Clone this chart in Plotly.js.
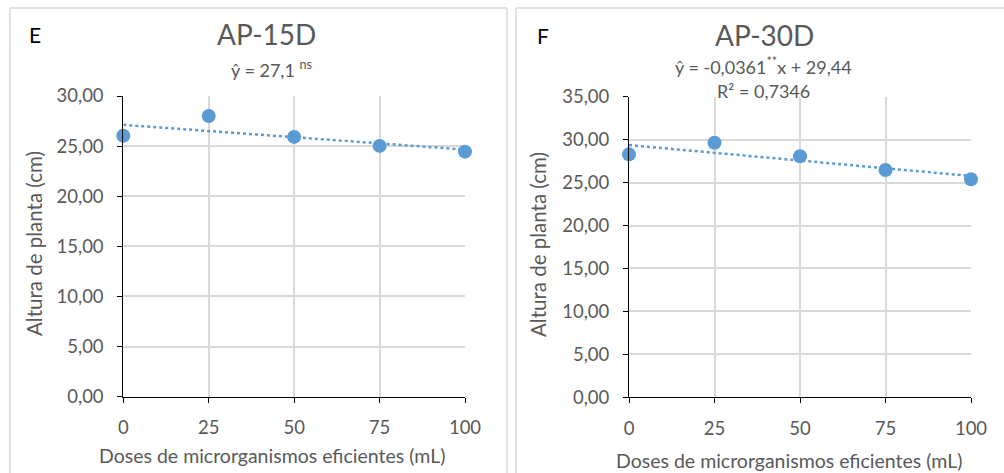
<!DOCTYPE html>
<html>
<head>
<meta charset="utf-8">
<script src="https://cdn.plot.ly/plotly-3.0.1.min.js"></script>
<style>html,body{margin:0;padding:0;background:#fff;}#chart{width:1004px;height:473px;}</style>
</head>
<body>
<div id="chart"></div>
<script>
// ---- data ----
const doses = [0, 25, 50, 75, 100];
const ap15 = [26.04, 28.01, 25.92, 25.02, 24.45];
const ap30 = [28.29, 29.64, 28.06, 26.46, 25.38];
const xTicks = [0, 25, 50, 75, 100];
const yTicks15 = [0, 5, 10, 15, 20, 25, 30];
const yTicks30 = [0, 5, 10, 15, 20, 25, 30, 35];
const panelLetters = ['E', 'F'];
const titles = ['AP-15D', 'AP-30D'];
const eq15 = 'ŷ = 27,1 <sup>ns</sup>';
const eq30 = 'ŷ = -0,0361<sup>**</sup>x + 29,44';
const r2_30 = 'R² = 0,7346';
const yTitle = 'Altura de planta (cm)';
const xTitle = 'Doses de microrganismos eficientes (mL)';

function linfit(x, y) {
  const n = x.length;
  const mx = x.reduce((a, b) => a + b, 0) / n;
  const my = y.reduce((a, b) => a + b, 0) / n;
  let sxy = 0, sxx = 0;
  for (let i = 0; i < n; i++) { sxy += (x[i] - mx) * (y[i] - my); sxx += (x[i] - mx) ** 2; }
  const b = sxy / sxx; const a = my - b * mx;
  return xs => xs.map(v => a + b * v);
}
const endX = [xTicks[0], xTicks[xTicks.length - 1]];

const W = 1004, H = 473;
const px = v => v / W, py = v => 1 - v / H;

const blue = '#5b9bd5';
const FONT = 'Lato, "Open Sans", sans-serif';
const grey = '#595959';

const traces = [
  {x: endX, y: linfit(doses, ap15)(endX), xaxis: 'x', yaxis: 'y', mode: 'lines',
   line: {color: blue, width: 2.5, dash: 'dot'}, hoverinfo: 'skip', cliponaxis: false},
  {x: doses, y: ap15, xaxis: 'x', yaxis: 'y', mode: 'markers',
   marker: {color: blue, size: 14}, cliponaxis: false},
  {x: endX, y: linfit(doses, ap30)(endX), xaxis: 'x2', yaxis: 'y2', mode: 'lines',
   line: {color: blue, width: 2.5, dash: 'dot'}, hoverinfo: 'skip', cliponaxis: false},
  {x: doses, y: ap30, xaxis: 'x2', yaxis: 'y2', mode: 'markers',
   marker: {color: blue, size: 14}, cliponaxis: false}
];

function xAxis(domain, anchor) {
  return {domain: domain, anchor: anchor, range: [0, 100], tickvals: xTicks,
    showgrid: true, gridcolor: '#d9d9d9', gridwidth: 2, zeroline: false,
    showline: true, linecolor: '#000', linewidth: 1,
    ticks: 'outside', ticklen: 5, tickcolor: '#000', ticklabelstandoff: 9,
    tickfont: {family: FONT, size: 18.5, color: grey}, fixedrange: true};
}
function yAxis(domain, anchor, max, vals) {
  return {domain: domain, anchor: anchor, range: [0, max], tickvals: vals, tickformat: '.2f',
    showgrid: true, gridcolor: '#d9d9d9', gridwidth: 2, zeroline: false,
    showline: true, linecolor: '#000', linewidth: 1,
    ticks: 'outside', ticklen: 5, tickcolor: '#000', ticklabelstandoff: 10,
    tickfont: {family: FONT, size: 18.5, color: grey}, fixedrange: true};
}

function ann(x, y, text, size, color, extra) {
  return Object.assign({xref: 'paper', yref: 'paper', x: px(x), y: py(y), text: text,
    showarrow: false, xanchor: 'center', yanchor: 'middle',
    font: {family: FONT, size: size, color: color}}, extra || {});
}

const annotations = [
  ann(35, 34, panelLetters[0], 21, '#000'),
  ann(266, 34, titles[0], 28, grey),
  ann(271, 69, eq15, 18, grey),
  ann(34, 244, yTitle, 20.5, grey, {textangle: -90}),
  ann(272, 455, xTitle, 19.5, grey),
  ann(543, 36, panelLetters[1], 21, '#000'),
  ann(764, 35, titles[1], 28, grey),
  ann(763, 66, eq30, 18, grey),
  ann(763, 91, r2_30, 18, grey),
  ann(538, 245, yTitle, 20.5, grey, {textangle: -90}),
  ann(789, 460, xTitle, 19.5, grey)
];

const bc = '#d9d9d9';
function ln(x0, y0, x1, y1) {
  return {type: 'line', xref: 'paper', yref: 'paper', x0: px(x0), y0: py(y0), x1: px(x1), y1: py(y1),
    line: {color: bc, width: 1.5}, layer: 'below'};
}
const shapes = [
  ln(10, 8, 507, 8), ln(10, 8, 10, 480), ln(507, 8, 507, 480),
  ln(516, 8, 1010, 8), ln(516, 8, 516, 480)
];

const layout = {
  width: W, height: H, margin: {l: 0, r: 0, t: 0, b: 0},
  paper_bgcolor: '#fff', plot_bgcolor: '#fff', showlegend: false,
  separators: ', ',
  xaxis: xAxis([px(123.3), px(465)], 'y'),
  yaxis: yAxis([py(396.7), py(96)], 'x', 30, yTicks15),
  xaxis2: xAxis([px(629), px(971)], 'y2'),
  yaxis2: yAxis([py(397.3), py(96.7)], 'x2', 35, yTicks30),
  annotations: annotations, shapes: shapes
};

Plotly.newPlot('chart', traces, layout, {displayModeBar: false, staticPlot: true});
</script>
</body>
</html>
